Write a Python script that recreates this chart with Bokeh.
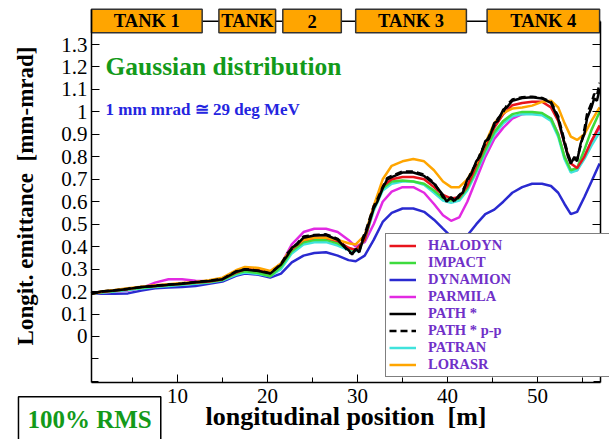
from bokeh.plotting import figure
from bokeh.models import (Range1d, LinearAxis, FixedTicker, Label, Legend, LegendItem,
                          ColumnDataSource, CustomLabelingPolicy)
from bokeh.core.properties import value
from bokeh.embed import file_html
from bokeh.resources import INLINE

# ---------------- data ----------------
pos = [0.4, 1.5, 3, 4.5, 6, 7.5, 9, 10.5, 12, 13.5, 15, 16.5, 17.5, 19, 20.3, 21.5, 22.7, 24,
       25.2, 26.5, 27.8, 29, 29.8, 30.8, 31.8, 32.8, 33.8, 35, 36.2, 37.4, 38.5, 39.5, 40.4,
       41.3, 42.2, 43.2, 44.2, 45.2, 46.2, 47.2, 48.3, 49.4, 50.5, 51.5, 52.3, 53, 53.7, 54.4,
       55.2, 56, 56.9]

dynamion = [0.19, 0.192, 0.19, 0.192, 0.205, 0.215, 0.218, 0.22, 0.225, 0.235, 0.245, 0.27, 0.28,
            0.275, 0.262, 0.28, 0.33, 0.36, 0.372, 0.375, 0.36, 0.34, 0.335, 0.36, 0.43, 0.51,
            0.55, 0.57, 0.57, 0.555, 0.52, 0.48, 0.445, 0.43, 0.45, 0.5, 0.545, 0.565, 0.6,
            0.64, 0.665, 0.68, 0.68, 0.67, 0.64, 0.59, 0.545, 0.555, 0.62, 0.69, 0.77]

parmila = [0.19, 0.195, 0.2, 0.205, 0.215, 0.24, 0.255, 0.255, 0.248, 0.245, 0.255, 0.285, 0.3,
           0.295, 0.285, 0.32, 0.41, 0.465, 0.48, 0.48, 0.465, 0.43, 0.4, 0.42, 0.5, 0.6, 0.645,
           0.665, 0.665, 0.64, 0.59, 0.54, 0.515, 0.53, 0.6, 0.7, 0.8, 0.88, 0.93, 0.97, 0.99,
           0.995, 0.99, 0.97, 0.9, 0.8, 0.74, 0.74, 0.8, 0.87, 0.93]

halodyn = [0.19, 0.198, 0.205, 0.212, 0.22, 0.225, 0.23, 0.235, 0.24, 0.245, 0.255, 0.285, 0.3,
           0.295, 0.285, 0.325, 0.39, 0.43, 0.44, 0.44, 0.425, 0.395, 0.385, 0.43, 0.58, 0.67,
           0.7, 0.71, 0.71, 0.7, 0.665, 0.63, 0.615, 0.62, 0.67, 0.76, 0.85, 0.93, 0.99, 1.03,
           1.04, 1.045, 1.045, 1.02, 0.96, 0.86, 0.77, 0.75, 0.8, 0.87, 0.94]

impact = [0.19, 0.197, 0.203, 0.21, 0.217, 0.223, 0.228, 0.233, 0.238, 0.243, 0.252, 0.28, 0.29,
          0.283, 0.268, 0.31, 0.38, 0.42, 0.43, 0.43, 0.415, 0.39, 0.385, 0.43, 0.57, 0.66, 0.69,
          0.695, 0.69, 0.68, 0.65, 0.615, 0.605, 0.615, 0.66, 0.74, 0.83, 0.91, 0.96, 0.99, 1.0,
          1.0, 0.995, 0.97, 0.9, 0.8, 0.74, 0.75, 0.83, 0.92, 1.0]

patran = [0.19, 0.195, 0.2, 0.207, 0.214, 0.22, 0.225, 0.23, 0.235, 0.24, 0.25, 0.275, 0.285,
          0.278, 0.268, 0.3, 0.37, 0.41, 0.42, 0.42, 0.405, 0.385, 0.38, 0.43, 0.56, 0.65, 0.68,
          0.69, 0.69, 0.675, 0.64, 0.605, 0.595, 0.605, 0.65, 0.73, 0.82, 0.9, 0.95, 0.98, 0.99,
          0.99, 0.985, 0.96, 0.89, 0.79, 0.73, 0.74, 0.79, 0.85, 0.91]

lorasr = [0.19, 0.2, 0.207, 0.215, 0.222, 0.228, 0.233, 0.238, 0.243, 0.25, 0.262, 0.295, 0.31,
          0.305, 0.292, 0.325, 0.395, 0.43, 0.44, 0.44, 0.43, 0.415, 0.41, 0.45, 0.58, 0.7, 0.76,
          0.78, 0.79, 0.78, 0.74, 0.69, 0.665, 0.665, 0.7, 0.77, 0.86, 0.95, 0.995, 1.015, 1.02,
          1.028, 1.045, 1.05, 1.02, 0.95, 0.89, 0.875, 0.9, 0.96, 1.02]

path_pos = [0.4, 1.5, 3, 4.5, 6, 7.5, 9, 10.5, 12, 13.5, 15, 16.5, 17.5, 19, 20.3, 21.5, 22.2,
            22.7, 23.3, 24, 25.2, 26.5, 27.8, 28.5, 29, 29.4, 29.8, 30.2, 30.6, 31, 31.4, 31.8,
            32.2, 32.8, 33.3, 33.8, 35, 36.2, 37.4, 38.5, 39.2, 39.5, 39.9, 40.4, 40.8, 41.3,
            41.7, 42.2, 42.6, 43.2, 43.6, 44.2, 44.6, 45.2, 45.6, 46.2, 46.6, 47.2, 48.3, 49.4,
            50.5, 51.5, 52.3, 53, 53.4, 53.7, 54.1, 54.4, 54.8, 55.2, 55.5, 56, 56.3, 56.6, 56.9]

path = [0.19, 0.2, 0.205, 0.212, 0.22, 0.225, 0.23, 0.235, 0.242, 0.247, 0.255, 0.288, 0.298,
        0.292, 0.28, 0.32, 0.36, 0.395, 0.41, 0.44, 0.45, 0.452, 0.43, 0.4, 0.385, 0.365, 0.39,
        0.375, 0.43, 0.47, 0.52, 0.57, 0.6, 0.66, 0.7, 0.71, 0.73, 0.73, 0.715, 0.68, 0.645,
        0.63, 0.6, 0.62, 0.605, 0.63, 0.64, 0.7, 0.72, 0.78, 0.8, 0.87, 0.88, 0.95, 0.96, 1.01,
        1.02, 1.05, 1.062, 1.065, 1.06, 1.04, 0.97, 0.86, 0.8, 0.77, 0.8, 0.78, 0.86, 0.9, 0.97,
        1.02, 1.06, 1.05, 1.1]

path_pp = [0.19, 0.2, 0.206, 0.213, 0.22, 0.226, 0.231, 0.236, 0.243, 0.248, 0.256, 0.29, 0.3,
           0.293, 0.282, 0.322, 0.37, 0.39, 0.415, 0.445, 0.452, 0.455, 0.435, 0.405, 0.375,
           0.37, 0.385, 0.38, 0.44, 0.48, 0.53, 0.58, 0.61, 0.665, 0.705, 0.715, 0.735, 0.735,
           0.72, 0.685, 0.64, 0.62, 0.61, 0.615, 0.6, 0.625, 0.65, 0.69, 0.73, 0.77, 0.81, 0.86,
           0.89, 0.94, 0.97, 1.0, 1.03, 1.055, 1.065, 1.068, 1.062, 1.045, 0.98, 0.87, 0.81,
           0.78, 0.79, 0.79, 0.85, 0.92, 0.99, 1.04, 1.08, 1.07, 1.13]

tank_names = ["TANK 1", "TANK", "2", "TANK 3", "TANK 4"]
tank_start = [0.44, 14.6, 21.7, 29.8, 44.4]
tank_end = [12.74, 20.9, 28.2, 42.1, 56.9]

y_tick_values = [0, 0.1, 0.2, 0.3, 0.4, 0.5, 0.6, 0.7, 0.8, 0.9, 1, 1.1, 1.2, 1.3]
y_tick_text = ["0", "0.1", "0.2", "0.3", "0.4", "0.5", "0.6", "0.7", "0.8", "0.9", "1",
               "1.1", "1.2", "1.3"]
y_minor_values = [-0.2, -0.1]
x_tick_values = [10, 20, 30, 40, 50]
x_minor_values = [5, 15, 25, 35, 45, 55]

# ---------------- figure ----------------
SERIF = "Liberation Serif"
X0, X1 = 0.44, 57.0        # extent of the axes box
Y0, Y1 = -0.205, 1.457
p = figure(width=609, height=439, output_backend="svg", toolbar_location=None,
           x_range=Range1d(-9.667, 58.0), y_range=Range1d(-0.4586, 1.496),
           min_border_left=0, min_border_right=0, min_border_top=0, min_border_bottom=0)
p.outline_line_color = None
p.xgrid.visible = False
p.ygrid.visible = False
p.background_fill_color = "white"
p.border_fill_color = "white"

def style_axis(ax):
    ax.axis_line_color = "black"
    ax.axis_line_width = 1.5
    ax.major_tick_line_color = "black"
    ax.minor_tick_line_color = "black"
    ax.major_tick_line_width = 1
    ax.minor_tick_line_width = 1
    ax.major_tick_in = 8
    ax.major_tick_out = 0
    ax.minor_tick_in = 5
    ax.minor_tick_out = 0
    ax.major_label_text_font = SERIF
    ax.major_label_text_font_size = "21px"
    ax.major_label_text_color = "black"
    ax.axis_label_text_font = SERIF
    ax.axis_label_text_font_style = "bold"
    ax.axis_label_text_color = "black"

yax = p.yaxis[0]
yax.ticker = FixedTicker(ticks=y_tick_values, minor_ticks=y_minor_values)
yax.major_label_overrides = dict(zip(y_tick_values, y_tick_text))
style_axis(yax)
yax.fixed_location = X0
yax.bounds = (Y0, Y1)
yax.minor_tick_in = 7
yax.axis_label = "Longit. emittance \u00a0[mm-mrad]"
yax.axis_label_text_font_size = "23px"
yax.axis_label_standoff = 20
yax.major_label_standoff = 4

xax = p.xaxis[0]
xax.ticker = FixedTicker(ticks=x_tick_values, minor_ticks=x_minor_values)
style_axis(xax)
xax.fixed_location = Y0
xax.bounds = (X0, X1)
xax.axis_label = "longitudinal position \u00a0[m]"
xax.axis_label_text_font_size = "26px"
xax.axis_label_standoff = -4
xax.major_label_standoff = 6

rax = LinearAxis(ticker=FixedTicker(ticks=y_tick_values, minor_ticks=y_minor_values))
style_axis(rax)
rax.fixed_location = X1
rax.bounds = (Y0, 1.404)
rax.minor_tick_in = 7
rax.major_label_text_font_size = "1px"
rax.major_label_standoff = 0
rax.major_label_policy = CustomLabelingPolicy(code="for (const i of indices) indices.unset(i)")
p.add_layout(rax, "right")

# tank boxes above
p.line(x=[X0, X1], y=[1.404, 1.404], line_color="black", line_width=1.5)
p.quad(left=tank_start, right=tank_end, bottom=1.352, top=Y1,
       fill_color="#ffa500", line_color="#333333", line_width=1.5)
tsrc = ColumnDataSource(dict(x=[(a + b) / 2 for a, b in zip(tank_start, tank_end)],
                             y=[1.404] * len(tank_names), t=tank_names))
p.text(x="x", y="y", text="t", source=tsrc, text_font=value(SERIF), text_font_style="bold",
       text_font_size="18.5px", text_align="center", text_baseline="middle", text_color="black")

# curves
lw = 2.5
r_dyn = p.line(pos, dynamion, line_color="#2a2ad0", line_width=lw)
r_par = p.line(pos, parmila, line_color="#e22ae2", line_width=lw)
r_pat = p.line(pos, patran, line_color="#40e3dc", line_width=lw)
r_imp = p.line(pos, impact, line_color="#3ddb3d", line_width=lw)
r_hal = p.line(pos, halodyn, line_color="#e8141c", line_width=lw)
r_lor = p.line(pos, lorasr, line_color="#ffa500", line_width=lw)
r_ppp = p.line(path_pos, path_pp, line_color="black", line_width=lw, line_dash="7 4")
r_pth = p.line(path_pos, path, line_color="black", line_width=lw)

legend = Legend(items=[
    LegendItem(label="HALODYN", renderers=[r_hal]),
    LegendItem(label="IMPACT", renderers=[r_imp]),
    LegendItem(label="DYNAMION", renderers=[r_dyn]),
    LegendItem(label="PARMILA", renderers=[r_par]),
    LegendItem(label="PATH *", renderers=[r_pth]),
    LegendItem(label="PATH * p-p", renderers=[r_ppp]),
    LegendItem(label="PATRAN", renderers=[r_pat]),
    LegendItem(label="LORASR", renderers=[r_lor]),
], location=(385, 62))
legend.label_text_font = SERIF
legend.label_text_font_style = "bold"
legend.label_text_font_size = "14.5px"
legend.label_text_color = "#7030c8"
legend.glyph_width = 27
legend.glyph_height = 15
legend.label_height = 15
legend.spacing = 0
legend.padding = 3
legend.margin = 0
legend.label_standoff = 12
legend.label_width = 180
legend.border_line_color = "black"
legend.border_line_width = 1.5
legend.background_fill_color = "white"
legend.background_fill_alpha = 1
p.add_layout(legend)

p.add_layout(Label(x=2.0, y=1.2, text="Gaussian distribution", text_font=SERIF,
                   text_font_style="bold", text_font_size="25.5px", text_color="#139a1a",
                   text_baseline="middle"))
p.add_layout(Label(x=2.0, y=1.009, text="1 mm mrad \u2245 29 deg MeV", text_font=SERIF,
                   text_font_style="bold", text_font_size="17px", text_color="#2525e0",
                   text_baseline="middle"))
p.add_layout(Label(x=48.3, y=0.174, text="37.5 x Z mA", text_font=SERIF,
                   text_font_style="bold", text_font_size="15px", text_color="#7030c8",
                   text_baseline="middle"))
p.add_layout(Label(x=-7.67, y=-0.268, text="100% RMS", text_font=SERIF,
                   text_font_style="bold", text_font_size="25px", text_color="#139a1a",
                   text_baseline="top", border_line_color="black", border_line_width=1.5,
                   background_fill_color="white", padding=9))

open("out.html", "w").write(file_html(p, INLINE))
